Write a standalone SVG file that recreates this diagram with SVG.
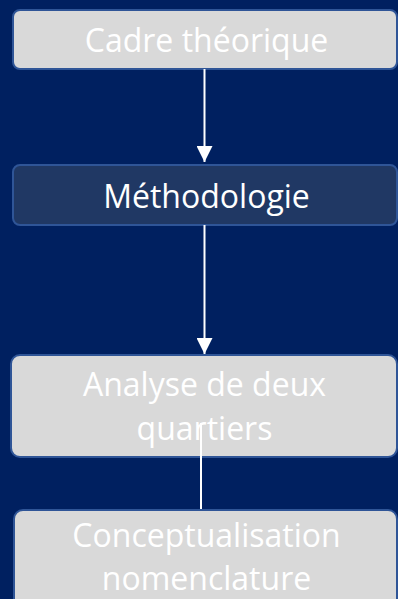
<svg xmlns="http://www.w3.org/2000/svg" width="398" height="599" viewBox="0 0 398 599">
<style>
.bg{fill:#002060}
.box{fill:#D9D9D9;stroke:#2F5597;stroke-width:2}
.boxd{fill:#203864;stroke:#2F5597;stroke-width:2}
.t{font-family:"Open Sans","Noto Sans",sans-serif;font-size:32px;fill:#FFFFFF;text-anchor:middle}
.c{stroke:#FFFFFF;stroke-width:2;fill:none}
</style>
<defs>
<marker id="ah" markerWidth="16" markerHeight="16" refX="16" refY="8" orient="auto" markerUnits="userSpaceOnUse">
<path d="M0,0 L16,8 L0,16 Z" fill="#FFFFFF"/>
</marker>
</defs>
<rect class="bg" x="0" y="0" width="398" height="599"/>
<g id="n1">
<rect class="box" x="13" y="10" width="384" height="59" rx="7"/>
<text class="t" x="206.5" y="52">Cadre théorique</text>
</g>
<g id="n2">
<rect class="boxd" x="13" y="165" width="384" height="60" rx="7"/>
<text class="t" x="206.5" y="208">Méthodologie</text>
</g>
<g id="n3">
<rect class="box" x="11" y="355" width="386" height="102" rx="9"/>
<text class="t" x="204.5" y="396">Analyse de deux</text>
<text class="t" x="204.5" y="440">quartiers</text>
</g>
<g id="n4">
<rect class="box" x="14" y="510" width="383" height="100" rx="9"/>
<text class="t" x="206.5" y="547">Conceptualisation</text>
<text class="t" x="206.5" y="590">nomenclature</text>
</g>
<g id="connectors">
<line class="c" x1="204.5" y1="69" x2="204.5" y2="162" marker-end="url(#ah)"/>
<line class="c" x1="204.5" y1="225" x2="204.5" y2="354" marker-end="url(#ah)"/>
<line class="c" x1="201" y1="423" x2="201" y2="509"/>
</g>
</svg>
